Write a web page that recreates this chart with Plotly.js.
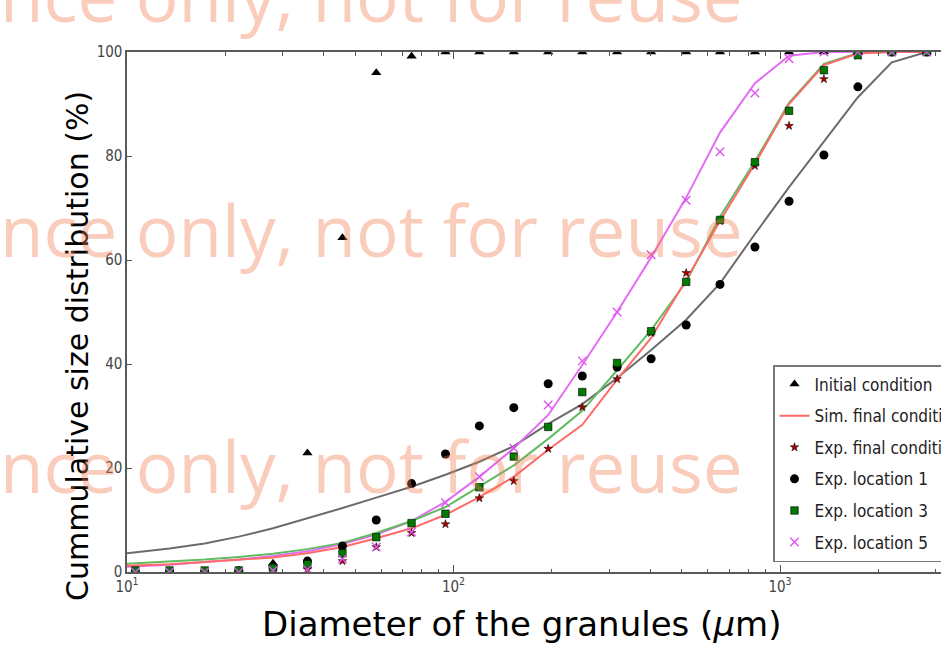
<!DOCTYPE html>
<html>
<head>
<meta charset="utf-8">
<script src="https://cdn.plot.ly/plotly-3.0.1.min.js"></script>
<style>html,body{margin:0;padding:0;background:#fff;overflow:hidden}</style>
</head>
<body>
<div id="chart" style="width:941px;height:645px"></div>
<script>
// Sieve sizes (µm) of the experimental points
const sizes = [10.6, 13.5, 17.3, 22, 28, 35.7, 45.7, 58, 74.4, 94.5, 120, 153, 195, 248, 317, 403, 516, 655, 838, 1066, 1363, 1732, 2200, 2815];
// Experimental cumulative distributions (%)
const initialCond = [0, 0, 0, 0.3, 1.7, 22.9, 64.3, 96, 99.2, 100, 100, 100, 100, 100, 100, 100, 100, 100, 100, 100, 100, 100, 100, 100];
const expFinal    = [0, 0, 0, 0, 0.3, 0.5, 2.1, 4.8, 7.5, 9.2, 14.2, 17.5, 23.7, 31.7, 37.1, 46, 57.5, 67.5, 78.1, 85.8, 94.8, 99.3, 100, 100];
const expLoc1     = [0, 0, 0, 0.2, 1.0, 2.1, 5, 10, 17, 22.7, 28.1, 31.6, 36.2, 37.7, 39.4, 41, 47.5, 55.3, 62.5, 71.3, 80.2, 93.3, 100, 100];
const expLoc3     = [0.3, 0.3, 0.3, 0.3, 0.8, 1.5, 3.6, 6.7, 9.4, 11.2, 16.3, 22.2, 27.9, 34.6, 40.2, 46.3, 55.8, 67.7, 78.8, 88.7, 96.5, 99.4, 100, 100];
const expLoc5     = [0, 0, 0, 0, 0.3, 0.5, 2.5, 4.8, 7.7, 13.3, 18.3, 23.8, 32.1, 40.6, 50, 61, 71.5, 80.8, 92.1, 98.7, 100, 100, 100, 100];
// Simulated curves (%)
const simSizes = [10, 13.5, 17.3, 22, 28, 35.7, 45.7, 58, 74.4, 94.5, 120, 153, 195, 248, 317, 403, 516, 655, 838, 1066, 1363, 1732, 2200, 2815];
const simFinal = [1.2, 1.5, 1.9, 2.3, 2.8, 3.6, 4.8, 6.5, 8.4, 11, 14.4, 18.3, 23.5, 28.3, 37, 45, 56.2, 67.5, 78.5, 90, 97.5, 99.7, 100, 100];
const simLoc1  = [3.6, 4.5, 5.5, 6.8, 8.4, 10.3, 12.3, 14.3, 16.4, 18.7, 21.2, 24.2, 28.5, 32.3, 37.3, 42.7, 48.5, 55.5, 65, 74, 82.7, 91.3, 98, 100];
const simLoc3  = [1.6, 2.0, 2.4, 2.9, 3.5, 4.4, 5.6, 7.5, 9.8, 12.5, 16.4, 20.5, 25.6, 31, 38.8, 46.5, 55.8, 68.3, 79, 90.2, 97.7, 99.8, 100, 100];
const simLoc5  = [1.0, 1.4, 1.9, 2.4, 3.1, 4.0, 5.4, 7.2, 9.8, 13.5, 18.3, 23.8, 30.2, 39.8, 50, 60.5, 72, 84.5, 94, 99.3, 100, 100, 100, 100];
// Axis ticks
const xTickVals = [10, 100, 1000];
const xTickText = ['10<sup>1</sup>', '10<sup>2</sup>', '10<sup>3</sup>'];
const xMinorVals = [20, 30, 40, 50, 60, 70, 80, 90, 200, 300, 400, 500, 600, 700, 800, 900, 2000, 3000];
const yTickVals = [0, 20, 40, 60, 80, 100];

const narrow = 'Liberation Sans Narrow, DejaVu Sans Condensed, Arial Narrow, sans-serif';

const traces = [
  {x: simSizes, y: simLoc1, mode: 'lines', line: {color: '#6b6b6b', width: 2}, showlegend: false, hoverinfo: 'skip'},
  {x: simSizes, y: simLoc5, mode: 'lines', line: {color: '#e46cf4', width: 2}, showlegend: false, hoverinfo: 'skip'},
  {x: simSizes, y: simLoc3, mode: 'lines', line: {color: '#62bb62', width: 2}, showlegend: false, hoverinfo: 'skip'},
  {x: simSizes, y: simFinal, mode: 'lines', name: 'Sim. final condition', legendgroup: 'b', legendrank: 2,
   line: {color: '#ff6a6a', width: 2}},
  {x: sizes, y: initialCond, mode: 'markers', name: 'Initial condition', legendgroup: 'a', legendrank: 1,
   marker: {symbol: 'triangle-up', size: 9, color: '#000'}},
  {x: sizes, y: expFinal, mode: 'markers', name: 'Exp. final condition', legendgroup: 'c', legendrank: 3,
   marker: {symbol: 'star', size: 6.5, color: '#a80000', line: {color: '#000', width: 0.5}}},
  {x: sizes, y: expLoc1, mode: 'markers', name: 'Exp. location 1', legendgroup: 'd', legendrank: 4,
   marker: {symbol: 'circle', size: 9, color: '#000'}},
  {x: sizes, y: expLoc3, mode: 'markers', name: 'Exp. location 3', legendgroup: 'e', legendrank: 5,
   marker: {symbol: 'square', size: 7.5, color: '#007a00', line: {color: '#000', width: 0.6}}},
  {x: sizes, y: expLoc5, mode: 'markers', name: 'Exp. location 5', legendgroup: 'f', legendrank: 6,
   marker: {symbol: 'x-thin', size: 8.5, color: '#dd55ee', line: {color: '#dd55ee', width: 1.4}}}
];

const W = 941, L = 127, T = 52, B = 73;
const plotW = W - L, plotH = 645 - T - B;
const px2x = p => (p - L) / plotW;
const px2y = p => (572 - p) / plotH;

const wmFont = {family: 'Open Sans, sans-serif', size: 71, color: 'rgba(242,120,80,0.38)'};
const wm = [ -5.5, 229.5, 465.5 ].map(cy => ({
  text: 'nce only, not for reuse', xref: 'paper', yref: 'paper', x: px2x(-2), y: px2y(cy),
  xanchor: 'left', yanchor: 'middle', showarrow: false, font: wmFont
}));

const layout = {
  width: 941, height: 645,
  margin: {l: L, r: 0, t: T, b: B, autoexpand: false},
  paper_bgcolor: '#fff', plot_bgcolor: '#fff',
  showlegend: true,
  xaxis: {
    type: 'log', range: [1, 1 + plotW / 326.5],
    tickmode: 'array', tickvals: xTickVals, ticktext: xTickText,
    ticks: 'inside', ticklen: 7, tickwidth: 1, tickcolor: '#555',
    minor: {tickmode: 'array', tickvals: xMinorVals, ticks: 'inside', ticklen: 3.5, tickcolor: '#555', tickwidth: 1},
    showline: true, linecolor: '#5a5a5a', linewidth: 1.6, mirror: 'ticks',
    showgrid: false, zeroline: false,
    tickfont: {family: narrow, size: 15, color: '#444'}
  },
  yaxis: {
    range: [0, 100], tickmode: 'array', tickvals: yTickVals,
    ticks: 'inside', ticklen: 5, tickwidth: 1, tickcolor: '#555',
    showline: true, linecolor: '#5a5a5a', linewidth: 1.6,
    showgrid: false, zeroline: false,
    tickfont: {family: narrow, size: 15, color: '#444'}
  },
  legend: {
    x: px2x(773), y: px2y(365), xanchor: 'left', yanchor: 'top',
    bgcolor: '#fff', bordercolor: '#777', borderwidth: 1.5,
    font: {family: narrow, size: 17, color: '#222'},
    traceorder: 'grouped', tracegroupgap: 6.5
  },
  annotations: [
    {text: 'Diameter of the granules (<i>μ</i>m)', xref: 'paper', yref: 'paper', x: px2x(521), y: px2y(624),
     xanchor: 'center', yanchor: 'middle', showarrow: false, font: {family: 'DejaVu Sans, sans-serif', size: 34, color: '#000'}},
    {text: 'Cummulative size distribution (%)', xref: 'paper', yref: 'paper', x: px2x(77), y: px2y(346),
     xanchor: 'center', yanchor: 'middle', textangle: -90, showarrow: false, font: {family: 'DejaVu Sans, sans-serif', size: 30, color: '#000'}}
  ].concat(wm)
};

Plotly.newPlot('chart', traces, layout, {displayModeBar: false, staticPlot: true});
</script>
</body>
</html>
